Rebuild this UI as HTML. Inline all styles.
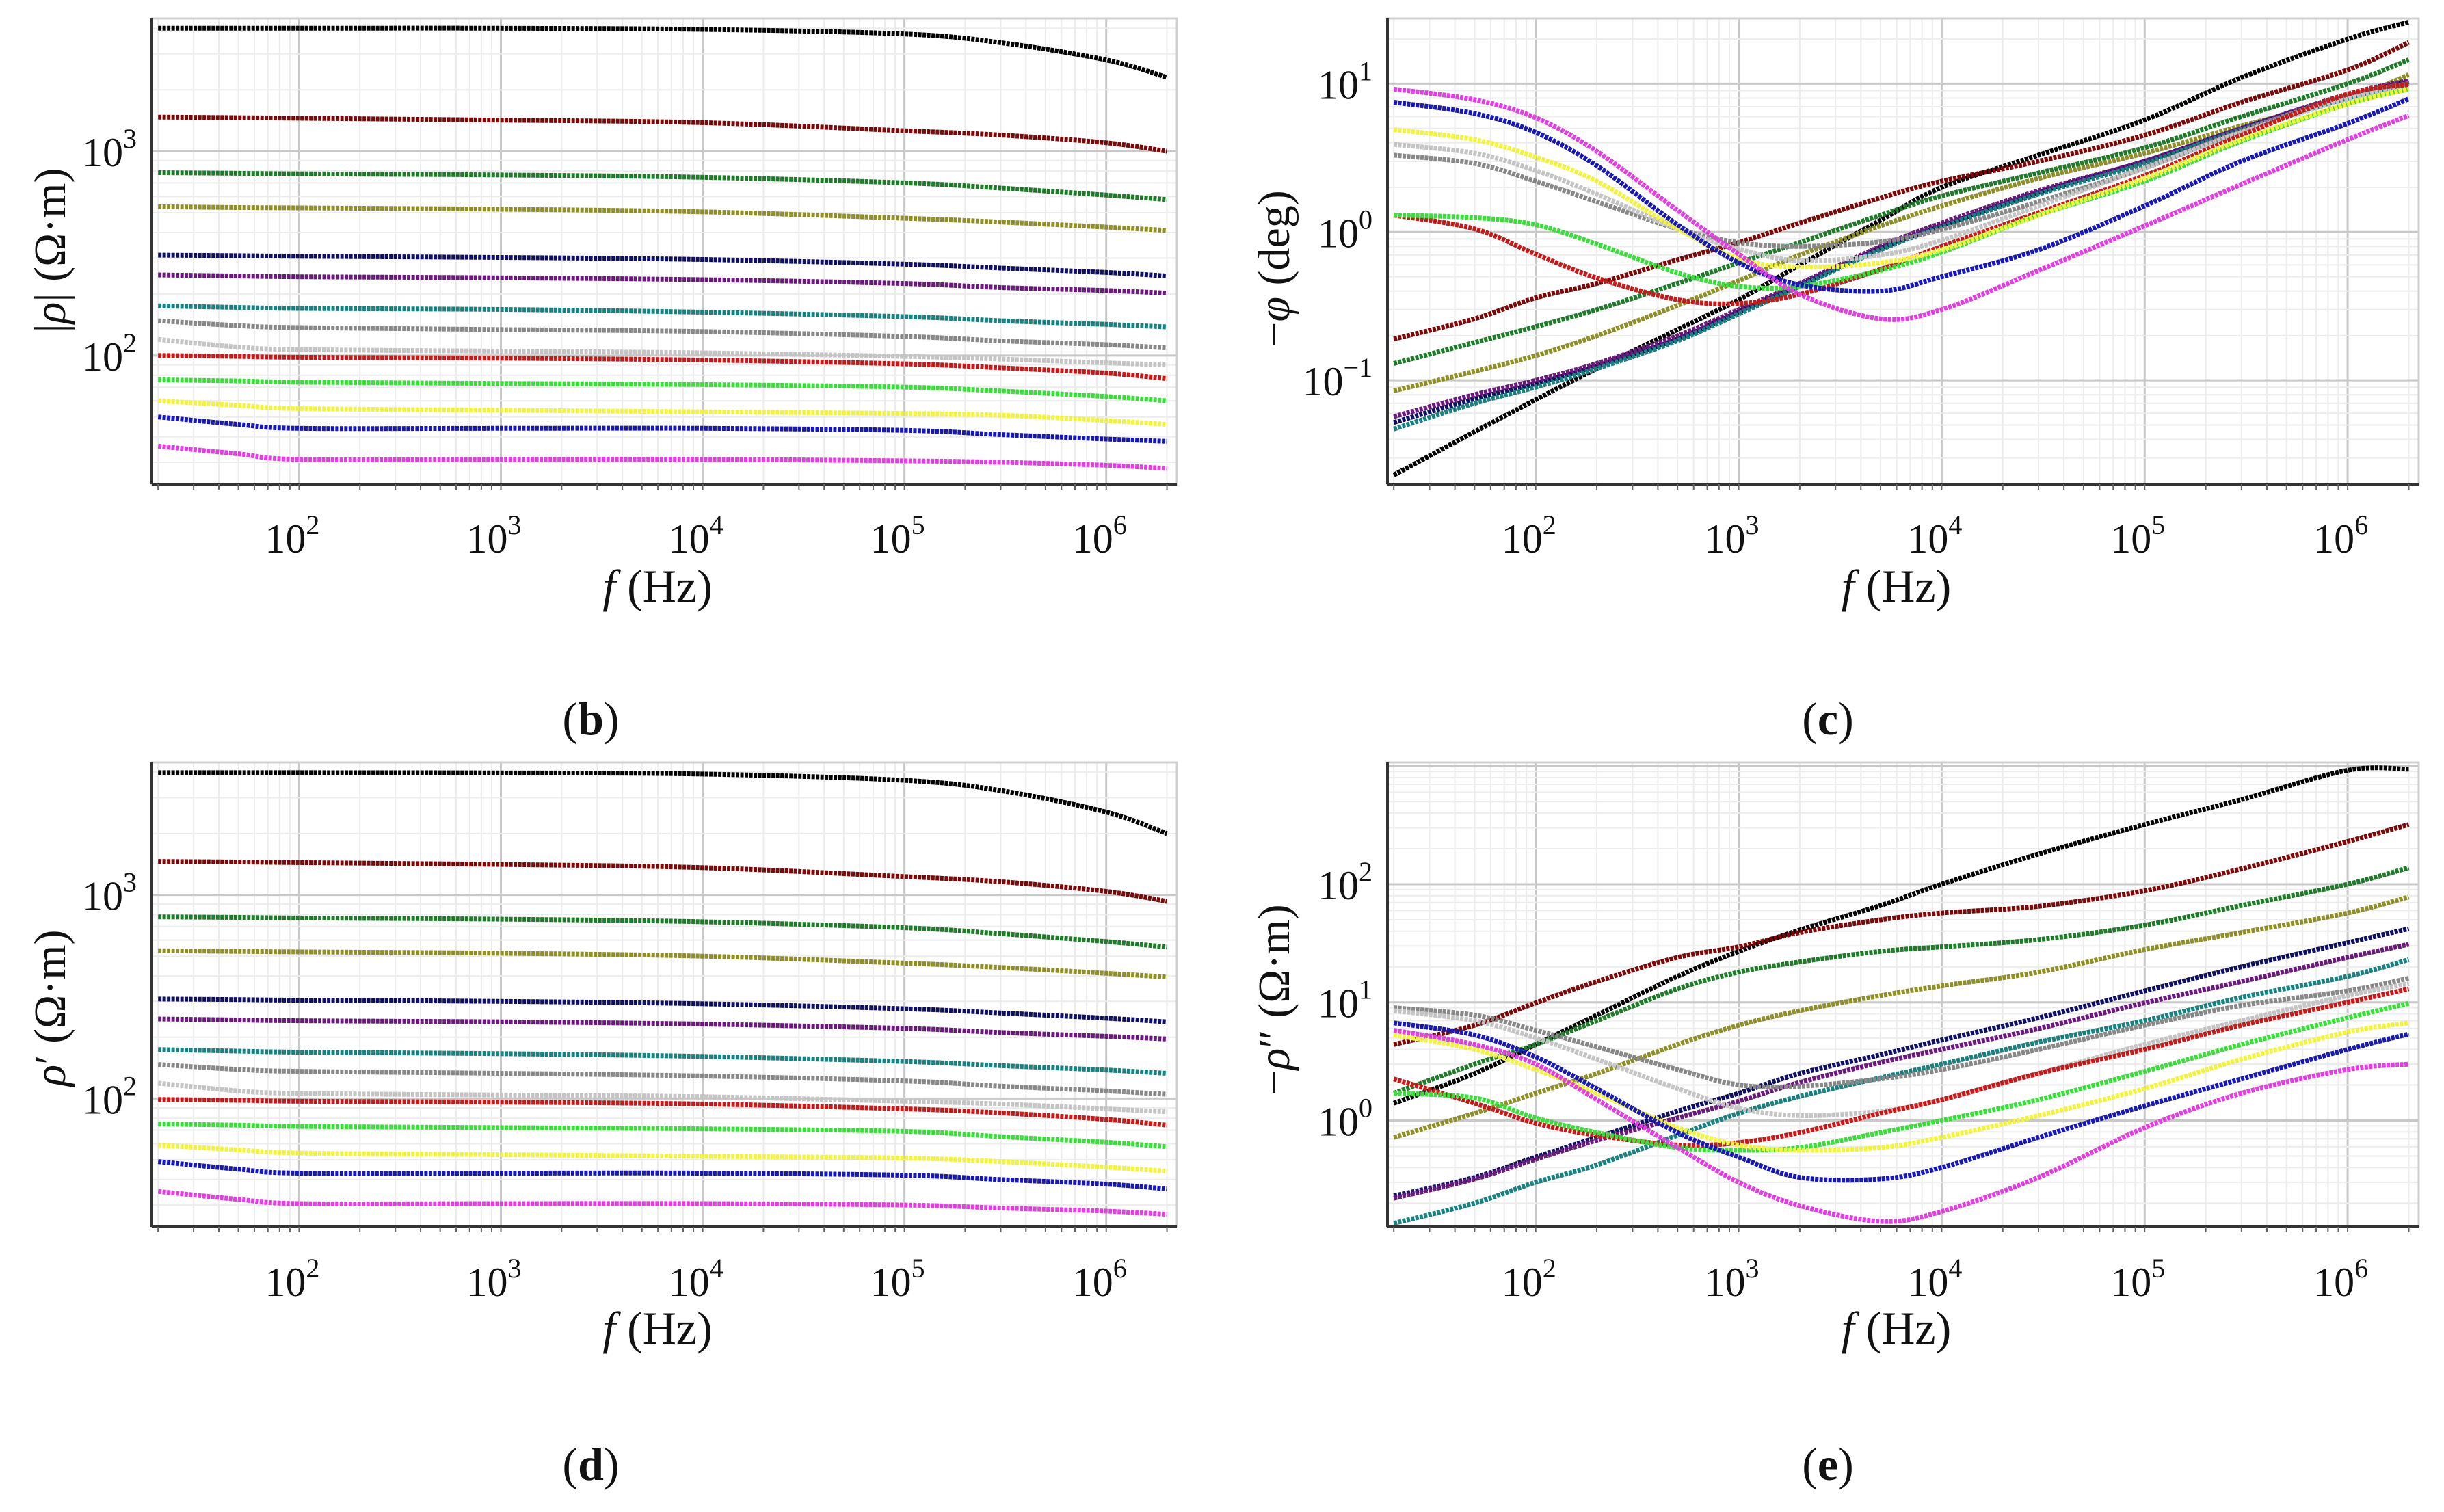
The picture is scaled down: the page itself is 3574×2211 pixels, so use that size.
<!DOCTYPE html>
<html><head><meta charset="utf-8"><title>Resistivity spectra</title>
<style>
html,body{margin:0;padding:0;background:#fff;}
svg{display:block;font-family:"Liberation Serif",serif;}
</style></head>
<body>
<svg id="fig" width="3574" height="2211" viewBox="0 0 3574 2211" xmlns="http://www.w3.org/2000/svg">
<rect x="0" y="0" width="3574" height="2211" fill="#fff"/>
</svg>
<script>
// ---- data ----
const seriesNames = ["black","darkred","green","olive","navy","purple","teal","gray","silver","red","lime","yellow","blue","magenta"];
const seriesColors = ["#000000","#7a0a0a","#1f7a2a","#8f8f2a","#101060","#6a1a7a","#1a8080","#888888","#c4c4c4","#c41a1a","#3ddc3d","#f2f240","#1818b4","#e040e0"];
const xTickLabels = ["2","3","4","5","6"];

const freqFlat = [20,50,100,1e3,1e4,1e5,3e5,1e6,2e6];
const valsB = [
 [4000,4000,4000,4000,3950,3750,3400,2800,2300],
 [1470,1460,1450,1420,1380,1260,1200,1100,1000],
 [785,780,775,765,745,700,660,610,580],
 [535,530,528,520,505,470,450,425,410],
 [310,308,306,302,295,280,268,255,245],
 [248,245,243,240,235,225,215,208,202],
 [175,172,170,168,163,155,148,142,138],
 [148,140,137,134,131,124,118,113,109],
 [120,110,107,105,103,99,96,92,90],
 [100,99,98,97,95,91,87,82,77],
 [76,75,74,73,72,70,67,63,60],
 [60,57,55,54,53,52,51,48,46],
 [50,46,44,44,44,43,41,39,38],
 [36,33,31,31,31,30.5,30,29,28]
];
const valsD = [
 [3980,3980,3980,3970,3920,3650,3250,2550,2000],
 [1460,1450,1440,1410,1360,1230,1160,1040,930],
 [780,775,770,760,738,690,645,590,555],
 [532,528,525,517,500,462,440,412,395],
 [308,306,304,300,292,276,263,248,238],
 [246,243,241,238,232,221,211,202,196],
 [174,171,169,166,161,152,145,138,133],
 [147,139,136,133,129,122,115,109,105],
 [119,109,106,104,102,97,94,89,86],
 [99,98,97,96,94,89,85,79,74],
 [75,74,73,72,71,69,65,61,58],
 [59,56,54,53,52,51,49,46,44],
 [49,45,43,43,43,42,40,38,36],
 [35,32,30.5,30.5,30.5,30,29,28,27]
];
const freqCurve = [20,50,100,200,500,1e3,2e3,5e3,1e4,3e4,1e5,3e5,1e6,2e6];
const valsC = [
 [0.023,0.045,0.074,0.12,0.22,0.35,0.6,1.2,2.0,3.3,5.7,11,20,26],
 [0.19,0.26,0.36,0.45,0.65,0.85,1.15,1.7,2.2,3.0,4.5,7.5,12.4,19],
 [0.13,0.18,0.23,0.3,0.45,0.62,0.85,1.3,1.75,2.5,3.7,6,10,14.5],
 [0.085,0.115,0.147,0.2,0.32,0.47,0.7,1.1,1.5,2.3,3.4,5.2,7.9,11.5],
 [0.052,0.075,0.095,0.125,0.19,0.29,0.44,0.78,1.1,1.85,3.0,5,8.3,10.3],
 [0.057,0.08,0.1,0.13,0.2,0.3,0.45,0.8,1.15,1.9,3.0,5,8.5,10.5],
 [0.047,0.07,0.09,0.12,0.185,0.28,0.43,0.76,1.08,1.8,2.9,4.9,8,10],
 [3.3,2.9,2.2,1.6,1.05,0.85,0.8,0.86,1.04,1.6,2.7,4.8,8.3,10],
 [3.9,3.4,2.6,1.8,1.05,0.77,0.64,0.7,0.88,1.5,2.7,4.7,7.9,9.5],
 [1.3,1.05,0.71,0.49,0.35,0.33,0.38,0.56,0.8,1.35,2.4,4.5,8.5,9.9],
 [1.3,1.25,1.12,0.83,0.53,0.43,0.43,0.55,0.73,1.3,2.2,4.1,7.3,9.2],
 [4.9,4.2,3.2,2.2,1.05,0.66,0.58,0.62,0.76,1.3,2.3,4.2,7.3,9.2],
 [7.5,6.3,4.7,2.8,1.12,0.62,0.44,0.4,0.5,0.76,1.5,3,5.4,7.9],
 [9.2,7.8,5.9,3.5,1.4,0.71,0.38,0.26,0.3,0.55,1.1,2.1,4.2,6.1]
];
const valsE = [
 [1.4,2.5,4.4,7.8,16.6,27,41,66,100,180,320,520,920,940],
 [4.4,6.4,9.9,15,24,29.5,39,50,57,65,88,135,230,320],
 [1.7,3,4.4,7,13,18,22,27,29.5,34,45,66,100,138],
 [0.72,1.15,1.7,2.5,4.4,6.4,8.5,11.4,13.8,18,28,39,57,78],
 [0.23,0.33,0.49,0.72,1.2,1.7,2.5,3.6,4.8,7.4,12.5,20,32,42],
 [0.22,0.32,0.47,0.68,1.05,1.46,2.1,3.1,4.0,6,9.9,15,24,31],
 [0.135,0.2,0.3,0.42,0.75,1.15,1.6,2.3,3,4.6,7,11,16.6,23],
 [9,7.8,5.8,4.2,2.7,2.0,1.95,2.25,2.7,4,6.4,9.4,12.5,16],
 [8.5,7,5,3.3,1.86,1.27,1.1,1.2,1.5,2.5,4.4,7,11.4,14.4],
 [2.25,1.4,0.95,0.75,0.62,0.65,0.79,1.15,1.5,2.5,4,6.4,10,13],
 [1.7,1.55,1.05,0.79,0.59,0.56,0.59,0.79,1.0,1.5,2.6,4.4,7.4,9.8],
 [5.3,4,2.7,1.7,0.87,0.62,0.56,0.59,0.72,1.1,1.86,3.3,5.6,6.7],
 [6.7,5.3,3.45,1.86,0.79,0.49,0.33,0.32,0.4,0.72,1.33,2.25,4,5.4],
 [5.8,4.4,3,1.5,0.59,0.3,0.19,0.14,0.17,0.33,0.87,1.7,2.7,3]
];
const yTicksB = [2,3];
const yTicksC = [-1,0,1];
const yTicksD = [2,3];
const yTicksE = [0,1,2];

// ---- drawing ----
const NS = "http://www.w3.org/2000/svg";
const svg = document.getElementById("fig");
function mk(tag, attrs, parent){
  const e = document.createElementNS(NS, tag);
  for (const k in attrs) e.setAttribute(k, attrs[k]);
  (parent||svg).appendChild(e);
  return e;
}
function smoothPath(pts){
  let d = "M" + pts[0][0].toFixed(1) + "," + pts[0][1].toFixed(1);
  for (let i=0;i<pts.length-1;i++){
    const p0 = pts[Math.max(i-1,0)], p1 = pts[i], p2 = pts[i+1], p3 = pts[Math.min(i+2,pts.length-1)];
    const c1x = p1[0]+(p2[0]-p0[0])/6, c1y = p1[1]+(p2[1]-p0[1])/6;
    const c2x = p2[0]-(p3[0]-p1[0])/6, c2y = p2[1]-(p3[1]-p1[1])/6;
    d += " C"+c1x.toFixed(1)+","+c1y.toFixed(1)+" "+c2x.toFixed(1)+","+c2y.toFixed(1)+" "+p2[0].toFixed(1)+","+p2[1].toFixed(1);
  }
  return d;
}

function panel(cfg){
  const g = mk("g", {});
  
  
  const L=cfg.left, R=cfg.right, T=cfg.top, B=cfg.bottom;
  const xmin=1.27, xmax=6.35;
  const X = v => L + (Math.log10(v)-xmin)/(xmax-xmin)*(R-L);
  const Y = v => B - (Math.log10(v)-cfg.ymin)/(cfg.ymax-cfg.ymin)*(B-T);
  const Xl = l => L + (l-xmin)/(xmax-xmin)*(R-L);
  const Yl = l => B - (l-cfg.ymin)/(cfg.ymax-cfg.ymin)*(B-T);
  const grid = mk("g", {}, g);
  
  
  for (let dcd=1; dcd<=6; dcd++){
    for (let m=1;m<10;m++){
      const l = dcd+Math.log10(m);
      if (l<xmin||l>xmax) continue;
      const x = Xl(l);
      mk("line",{x1:x,x2:x,y1:T,y2:B,stroke:m===1?"#c8c8c8":"#ececec","stroke-width":m===1?3:2},grid);
    }
  }
  for (let dcd=-3; dcd<=4; dcd++){
    for (let m=1;m<10;m++){
      const l = dcd+Math.log10(m);
      if (l<cfg.ymin||l>cfg.ymax) continue;
      const y = Yl(l);
      mk("line",{x1:L,x2:R,y1:y,y2:y,stroke:m===1?"#c8c8c8":"#ececec","stroke-width":m===1?3:2},grid);
    }
  }
  mk("rect",{x:L,y:T,width:R-L,height:B-T,fill:"none",stroke:"#d0d0d0","stroke-width":3},g);
  const xa = mk("line",{x1:L,x2:R,y1:B,y2:B,stroke:"#333","stroke-width":4},g);
  
  
  const ya = mk("line",{x1:L,x2:L,y1:T,y2:B,stroke:"#333","stroke-width":4},g);
  
  
  for (let dcd=1; dcd<=6; dcd++){
    for (let m=1;m<10;m++){
      const l = dcd+Math.log10(m);
      if (l<xmin||l>xmax) continue;
      const x = Xl(l);
      mk("line",{x1:x,x2:x,y1:B,y2:B+8,stroke:"#666","stroke-width":2},g);
    }
  }
  xTickLabels.forEach(e=>{
    const t = mk("text",{x:Xl(+e)-10,y:cfg.xlabY,"font-size":60,"text-anchor":"middle",fill:"#111"},g);
    
    
    t.textContent = "10";
    const s = mk("tspan",{dy:-27,"font-size":40},t);
    s.textContent = e;
  });
  cfg.yticks.forEach(e=>{
    const t = mk("text",{x:L-22,y:Yl(e)+22,"font-size":60,"text-anchor":"end",fill:"#111"},g);
    
    
    t.textContent = "10";
    const s = mk("tspan",{dy:-27,"font-size":40},t);
    s.textContent = String(e).replace("-","\u2212");
  });
  cfg.vals.forEach((arr,i)=>{
    const pts = arr.map((v,j)=>[X(cfg.freq[j]),Y(v)]);
    const p = mk("path",{d:smoothPath(pts),fill:"none",stroke:seriesColors[i],"stroke-width":7,"stroke-dasharray":"5 1.5","stroke-linecap":"butt"},g);
    
    
  });
  const xt = mk("text",{x:(L+R)/2-10,y:cfg.xtitleY,"font-size":68,"text-anchor":"middle",fill:"#111"},g);
  
  
  const fi = mk("tspan",{"font-style":"italic"},xt); fi.textContent="f";
  const hz = mk("tspan",{},xt); hz.textContent=" (Hz)";
  const yt = mk("text",{x:0,y:0,"font-size":66,"text-anchor":"middle",fill:"#111",transform:"translate("+cfg.ytX+","+cfg.ytY+") rotate(-90)"},g);
  
  
  cfg.ytitle.forEach(seg=>{
    const s = mk("tspan",seg[1]?{"font-style":"italic"}:{},yt); s.textContent = seg[0];
  });
  const pl = mk("text",{x:cfg.plX,y:cfg.plY,"font-size":68,"text-anchor":"middle",fill:"#111"},g);
  
  
  const a = mk("tspan",{},pl); a.textContent="(";
  const b = mk("tspan",{"font-weight":"bold"},pl); b.textContent=cfg.letter;
  const c = mk("tspan",{},pl); c.textContent=")";
}

panel({name:"panel-b-magnitude",left:222,right:1721,top:27,bottom:708,ymin:1.37,ymax:3.65,yticks:yTicksB,
  freq:freqFlat,vals:valsB,xlabY:808,xtitleY:880,ytX:95,ytY:366,
  ytitle:[["|",0],["ρ",1],["| (Ω·m)",0]],plX:864,plY:1074,letter:"b"});
panel({name:"panel-c-phase",left:2029,right:3537,top:27,bottom:708,ymin:-1.7,ymax:1.44,yticks:yTicksC,
  freq:freqCurve,vals:valsC,xlabY:808,xtitleY:880,ytX:1885,ytY:393,
  ytitle:[["−",0],["φ",1],[" (deg)",0]],plX:2673,plY:1074,letter:"c"});
panel({name:"panel-d-real",left:222,right:1721,top:1115,bottom:1794,ymin:1.37,ymax:3.65,yticks:yTicksD,
  freq:freqFlat,vals:valsD,xlabY:1895,xtitleY:1965,ytX:95,ytY:1474,
  ytitle:[["ρ",1],["′ (Ω·m)",0]],plX:864,plY:2164,letter:"d"});
panel({name:"panel-e-imaginary",left:2029,right:3537,top:1115,bottom:1794,ymin:-0.9,ymax:3.03,yticks:yTicksE,
  freq:freqCurve,vals:valsE,xlabY:1895,xtitleY:1965,ytX:1885,ytY:1462,
  ytitle:[["−",0],["ρ",1],["″ (Ω·m)",0]],plX:2673,plY:2164,letter:"e"});
</script>
</body></html>
